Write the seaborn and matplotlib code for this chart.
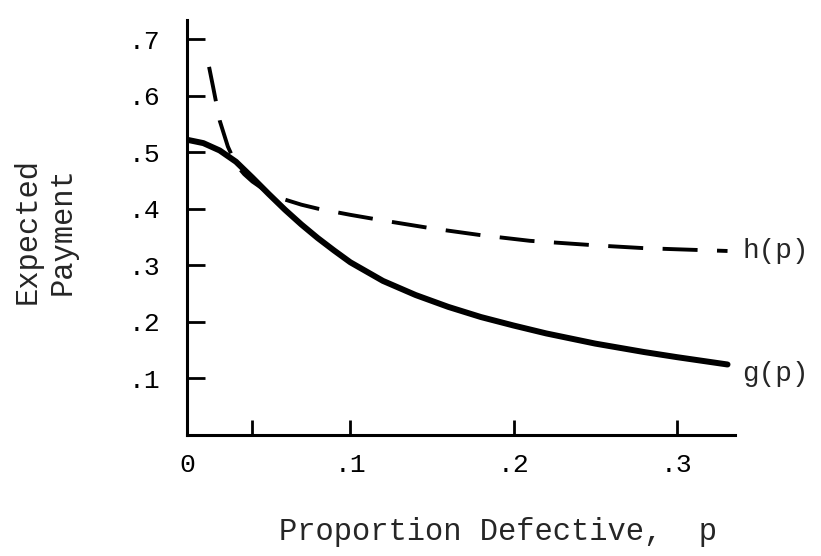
import matplotlib
matplotlib.use("Agg")
import matplotlib.pyplot as plt
import pandas as pd
import seaborn as sns

# ---------- data ----------
p_g = [0.0, 0.01, 0.02, 0.03, 0.04, 0.05, 0.06, 0.07, 0.08, 0.09, 0.10,
       0.12, 0.14, 0.16, 0.18, 0.20, 0.22, 0.25, 0.28, 0.30, 0.331]
g_vals = [0.522, 0.516, 0.503, 0.483, 0.455, 0.426, 0.398, 0.372, 0.348, 0.326, 0.305,
          0.272, 0.247, 0.226, 0.208, 0.193, 0.179, 0.161, 0.146, 0.137, 0.124]

p_h = [0.0135, 0.016, 0.02, 0.025, 0.03, 0.035, 0.04, 0.05, 0.06, 0.07, 0.08,
       0.10, 0.12, 0.15, 0.18, 0.21, 0.25, 0.28, 0.30, 0.331]
h_vals = [0.651, 0.615, 0.556, 0.510, 0.478, 0.461, 0.448, 0.428, 0.416, 0.407, 0.400,
          0.389, 0.379, 0.365, 0.353, 0.343, 0.335, 0.330, 0.328, 0.325]

x_ticks = [0.0, 0.04, 0.1, 0.2, 0.3]
x_labels = ["0", "", ".1", ".2", ".3"]
y_ticks = [0.1, 0.2, 0.3, 0.4, 0.5, 0.6, 0.7]
y_labels = [".1", ".2", ".3", ".4", ".5", ".6", ".7"]

g_df = pd.DataFrame({"p": p_g, "value": g_vals})
h_df = pd.DataFrame({"p": p_h, "value": h_vals})

# ---------- style ----------
sns.set_theme(style="white")
plt.rcParams["font.family"] = ["Liberation Mono", "DejaVu Sans Mono"]

fig = plt.figure(figsize=(8.21, 5.56), dpi=100)
ax = fig.add_axes([0.2278, 0.2185, 0.6675, 0.7455])

sns.lineplot(data=g_df, x="p", y="value", ax=ax, color="black", linewidth=4.3)
sns.lineplot(data=h_df, x="p", y="value", ax=ax, color="black", linewidth=2.8)
ax.lines[-1].set_dashes([9, 5])

ax.set_xlim(0, 0.3356)
ax.set_ylim(0, 0.734)

for side in ["top", "right"]:
    ax.spines[side].set_visible(False)
for side in ["left", "bottom"]:
    ax.spines[side].set_linewidth(2.2)
    ax.spines[side].set_color("black")

ax.set_xticks(x_ticks)
ax.set_xticklabels(x_labels)
ax.set_yticks(y_ticks)
ax.set_yticklabels(y_labels)
ax.tick_params(axis="x", direction="in", length=11, width=2.0, pad=13,
               labelsize=19, colors="black", bottom=True)
ax.tick_params(axis="y", direction="in", length=13, width=2.0, pad=19,
               labelsize=19, colors="black", left=True)

ax.set_xlabel("")
ax.set_ylabel("")

# curve labels at line ends
ax.text(0.340, h_vals[-1], "h(p)", fontsize=20, va="center", ha="left")
ax.text(0.340, 0.107, "g(p)", fontsize=20, va="center", ha="left")

# axis titles
fig.text(0.607, 0.043, "Proportion Defective,  p", fontsize=22,
         ha="center", va="center")
fig.text(0.055, 0.585, "Expected\nPayment", fontsize=22, rotation=90,
         ha="center", va="center", multialignment="center", linespacing=1.2)

fig.savefig("out.png", dpi=100, facecolor="white")
